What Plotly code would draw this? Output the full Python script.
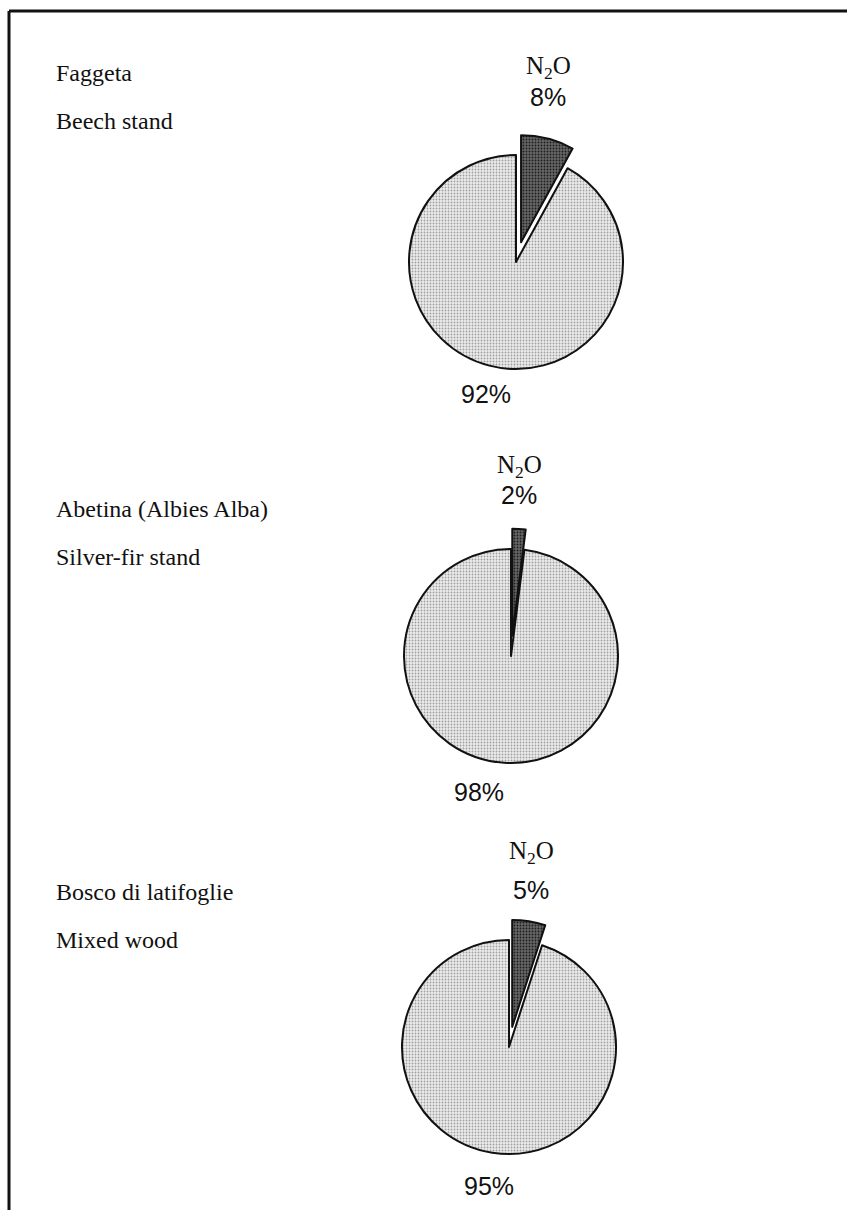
import plotly.graph_objects as go

# Share of N2O in total greenhouse-gas emissions for three forest stands
stands_it = ["Faggeta", "Abetina (Albies Alba)", "Bosco di latifoglie"]
stands_en = ["Beech stand", "Silver-fir stand", "Mixed wood"]
n2o_share = [8, 2, 5]
other_share = [92, 98, 95]
gas_label = "N<sub>2</sub>O"

# Page geometry (pixels)
W, H = 847, 1210
pie_centers = [(516, 262), (511, 656), (509, 1047)]
pie_radius = 107
pull = 0.19

SERIF = "Liberation Serif, Times New Roman, serif"
SANS = "Liberation Sans, Arial, sans-serif"


def px_x(x):
    return x / W


def px_y(y):
    return 1 - y / H


fig = go.Figure()
annotations = []

for i, (cx, cy) in enumerate(pie_centers):
    half = pie_radius * (1 + pull)
    fig.add_trace(go.Pie(
        labels=["N2O", "other"],
        values=[n2o_share[i], other_share[i]],
        sort=False,
        direction="clockwise",
        rotation=0,
        pull=[pull, 0],
        textinfo="none",
        hoverinfo="label+percent",
        showlegend=False,
        marker=dict(
            colors=["#4f4f4f", "#e2e2e2"],
            line=dict(color="#111111", width=2),
            pattern=dict(shape=[".", "."], fgcolor=["#1e1e1e", "#a0a0a0"],
                         bgcolor=["#666666", "#ececec"], size=3, solidity=0.3),
        ),
        domain=dict(x=[px_x(cx - half), px_x(cx + half)],
                    y=[px_y(cy + half), px_y(cy - half)]),
    ))

# Stand names (Italian / English), left column
label_rows = [(73, 121), (509, 557), (892, 940)]
for i, (y_it, y_en) in enumerate(label_rows):
    for txt, y in ((stands_it[i], y_it), (stands_en[i], y_en)):
        annotations.append(dict(
            x=px_x(54), y=px_y(y), xref="paper", yref="paper",
            text=txt, showarrow=False, xanchor="left", yanchor="middle",
            font=dict(family=SERIF, size=24, color="#111111"),
        ))

# N2O captions with percentage above the detached slice,
# remainder percentage below each pie
n2o_pos = [(548, 68, 97), (519, 466, 495), (531, 852, 890)]
rest_pos = [(486, 394), (479, 792), (489, 1186)]
for i in range(3):
    x, y_gas, y_val = n2o_pos[i]
    annotations.append(dict(
        x=px_x(x), y=px_y(y_gas), xref="paper", yref="paper",
        text=gas_label, showarrow=False, xanchor="center", yanchor="middle",
        font=dict(family=SERIF, size=25, color="#111111"),
    ))
    annotations.append(dict(
        x=px_x(x), y=px_y(y_val), xref="paper", yref="paper",
        text=f"{n2o_share[i]}%", showarrow=False, xanchor="center",
        yanchor="middle", font=dict(family=SANS, size=25, color="#111111"),
    ))
    rx, ry = rest_pos[i]
    annotations.append(dict(
        x=px_x(rx), y=px_y(ry), xref="paper", yref="paper",
        text=f"{other_share[i]}%", showarrow=False, xanchor="center",
        yanchor="middle", font=dict(family=SANS, size=25, color="#111111"),
    ))

# Frame: top and left rules
shapes = [
    dict(type="line", xref="paper", yref="paper",
         x0=px_x(9), x1=1, y0=px_y(11), y1=px_y(11),
         line=dict(color="#111111", width=3)),
    dict(type="line", xref="paper", yref="paper",
         x0=px_x(9), x1=px_x(9), y0=px_y(11), y1=0,
         line=dict(color="#111111", width=3)),
]

fig.update_layout(
    width=W, height=H,
    margin=dict(l=0, r=0, t=0, b=0),
    paper_bgcolor="white", plot_bgcolor="white",
    annotations=annotations, shapes=shapes,
)

fig.write_html("out.html")
